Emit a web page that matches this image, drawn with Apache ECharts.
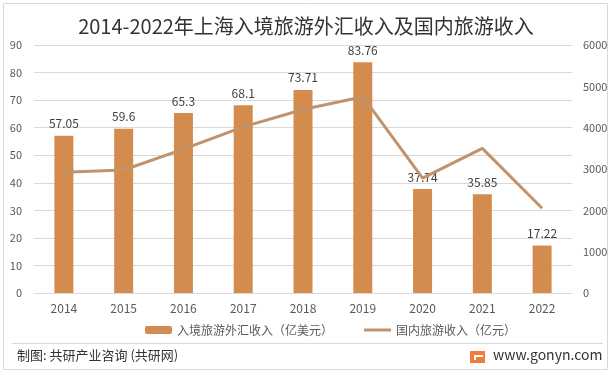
<!DOCTYPE html>
<html><head><meta charset="utf-8">
<script src="https://cdn.jsdelivr.net/npm/echarts@6/dist/echarts.min.js"></script>
<style>html,body{margin:0;padding:0;background:#fff}#c{width:612px;height:372px}</style>
</head><body><div id="c"></div>
<script>
const years = ['2014','2015','2016','2017','2018','2019','2020','2021','2022'];
const foreignIncome = [57.05, 59.6, 65.3, 68.1, 73.71, 83.76, 37.74, 35.85, 17.22];
const domesticIncome = [2920, 2975, 3480, 4020, 4440, 4750, 2780, 3500, 2050];
const leftTicks = {min: 0, max: 90, interval: 10};
const rightTicks = {min: 0, max: 6000, interval: 1000};
const seriesNames = ['入境旅游外汇收入（亿美元）', '国内旅游收入（亿元）'];
const titleText = '2014-2022年上海入境旅游外汇收入及国内旅游收入';

const font = '"Noto Sans CJK SC","Noto Sans",sans-serif';
const chart = echarts.init(document.getElementById('c'), null, {renderer: 'canvas'});
chart.setOption({
  animation: false,
  backgroundColor: '#fff',
  title: {text: titleText, left: 'center', top: 11,
    textStyle: {fontFamily: font, fontSize: 20, fontWeight: 'normal', color: '#333'}},
  legend: {left: 140, top: 319, itemGap: 31, itemWidth: 27, itemHeight: 8,
    textStyle: {fontFamily: font, fontSize: 12, color: '#595959'},
    data: [{name: seriesNames[0]},
           {name: seriesNames[1], icon: 'path://M0,0H27V3H0Z', itemStyle: {color: '#C0936D'}}]},
  grid: {left: 34, right: 40, top: 45, bottom: 79, containLabel: false},
  xAxis: {type: 'category', data: years,
    axisLine: {lineStyle: {color: '#D9D9D9'}}, axisTick: {show: false},
    axisLabel: {color: '#595959', fontFamily: font, fontSize: 12, margin: 9}},
  yAxis: [
    {type: 'value', min: leftTicks.min, max: leftTicks.max, interval: leftTicks.interval,
      axisLabel: {color: '#595959', fontFamily: font, fontSize: 11, margin: 12},
      splitLine: {lineStyle: {color: '#D9D9D9'}}, axisLine: {show: false}, axisTick: {show: false}},
    {type: 'value', min: rightTicks.min, max: rightTicks.max, interval: rightTicks.interval,
      axisLabel: {color: '#595959', fontFamily: font, fontSize: 11, margin: 11, formatter: v => String(v)},
      splitLine: {show: false}, axisLine: {show: false}, axisTick: {show: false}}
  ],
  series: [
    {name: seriesNames[0], type: 'bar', data: foreignIncome, barWidth: 19,
      itemStyle: {color: '#D48C4E'},
      label: {show: true, position: 'top', distance: 6, color: '#404040', fontFamily: font, fontSize: 12}},
    {name: seriesNames[1], type: 'line', yAxisIndex: 1, data: domesticIncome,
      symbol: 'none', lineStyle: {color: '#C0936D', width: 3}, itemStyle: {color: '#C0936D'}}
  ],
  graphic: [
    {type: 'rect', shape: {x: 3.5, y: 3.5, width: 604, height: 366}, style: {fill: 'none', stroke: '#D9D9D9', lineWidth: 1}, silent: true},
    {type: 'line', shape: {x1: 12, y1: 343.5, x2: 603, y2: 343.5}, style: {stroke: '#D9D9D9', lineWidth: 1}},
    {type: 'text', left: 17, top: 349, style: {text: '制图: 共研产业咨询 (共研网)', fill: '#333', font: '13px ' + font}},
    {type: 'rect', shape: {x: 470, y: 351, width: 15, height: 12}, style: {fill: '#F07D3A'}},
    {type: 'rect', shape: {x: 474, y: 355, width: 9, height: 2}, style: {fill: '#fff'}},
    {type: 'rect', shape: {x: 474, y: 355, width: 2, height: 5}, style: {fill: '#fff'}},
    {type: 'text', left: 493, top: 348, style: {text: 'www.gonyn.com', fill: '#333', font: '14px ' + font}}
  ]
});
</script></body></html>
